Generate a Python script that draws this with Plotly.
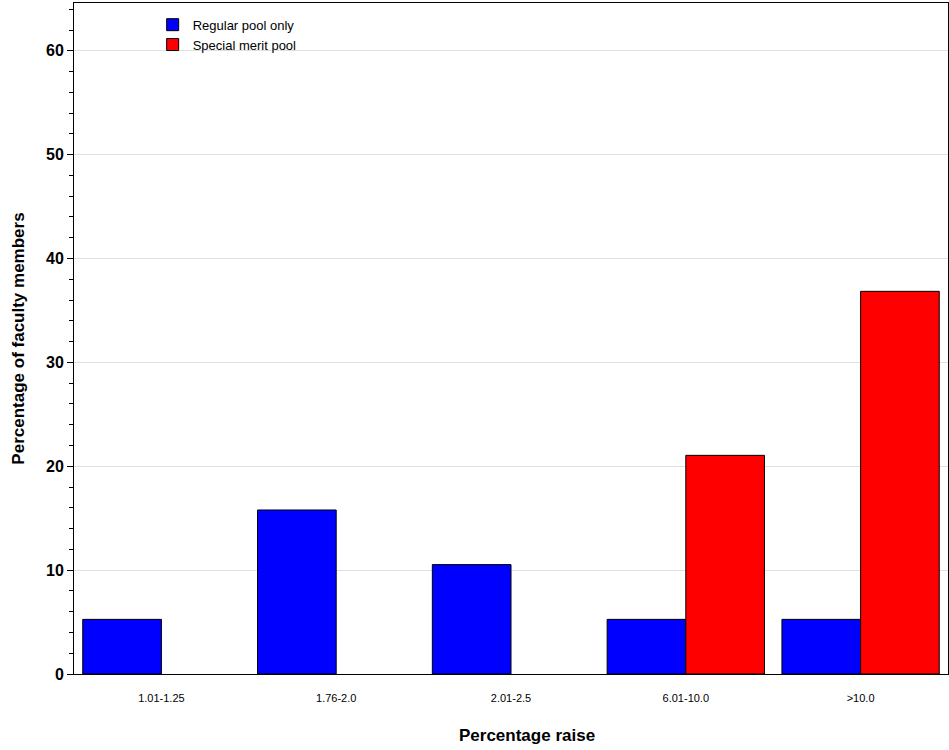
import plotly.graph_objects as go

categories = ["1.01-1.25", "1.76-2.0", "2.01-2.5", "6.01-10.0", ">10.0"]
regular_pool = [5.26, 15.79, 10.53, 5.26, 5.26]
special_pool = [None, None, None, 21.05, 36.84]
y_ticks = [0, 10, 20, 30, 40, 50, 60]

fig = go.Figure()
fig.add_trace(go.Bar(x=categories, y=regular_pool, name="Regular pool only",
                     marker=dict(color="#0000ff", line=dict(color="black", width=1))))
fig.add_trace(go.Bar(x=categories, y=special_pool, name="Special merit pool",
                     marker=dict(color="#ff0000", line=dict(color="black", width=1))))

fig.update_layout(
    width=949, height=750,
    barmode="group", bargap=0.1, bargroupgap=0,
    plot_bgcolor="white", paper_bgcolor="white",
    margin=dict(l=74, r=1, t=3, b=76),
    font=dict(family="Liberation Sans, Arial, sans-serif", color="black"),
    showlegend=True,
    legend=dict(x=0.09, y=0.99, xanchor="left", yanchor="top",
                font=dict(size=13), bgcolor="rgba(0,0,0,0)",
                tracegroupgap=0, itemwidth=30),
    annotations=[dict(text="Percentage raise", xref="paper", yref="paper",
                      x=0.518, y=0, yshift=-61, xanchor="center", yanchor="middle",
                      showarrow=False, font=dict(size=17, weight="bold"))],
)
fig.update_xaxes(
    showline=True, linecolor="black", linewidth=1, mirror=True,
    ticks="", tickfont=dict(size=11), ticklabelstandoff=14,
    showgrid=False,
)
fig.update_yaxes(
    range=[0, 64.6], tickvals=y_ticks,
    showline=True, linecolor="black", linewidth=1, mirror=True,
    ticks="outside", ticklen=6, tickcolor="black",
    tickfont=dict(size=16, weight="bold"),
    showgrid=True, gridcolor="#e0e0e0", gridwidth=1,
    zeroline=False,
    minor=dict(dtick=2, ticks="outside", ticklen=4, tickcolor="black", showgrid=False),
    title=dict(text="Percentage of faculty members", font=dict(size=17, weight="bold"), standoff=17),
)
fig.write_html("out.html", config={"displayModeBar": False},
               post_script="document.body.style.margin='0';document.body.style.padding='0';")
